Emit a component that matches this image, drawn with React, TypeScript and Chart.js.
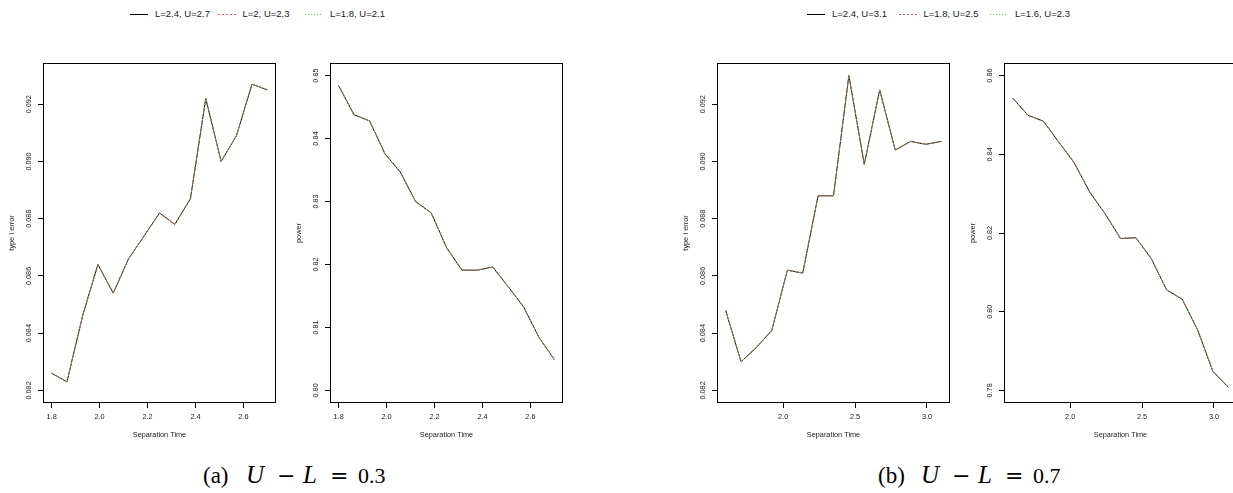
import React, { useEffect, useRef } from 'react';
import { Chart, registerables } from 'chart.js';

Chart.register(...registerables);

// ---------------- data ----------------
const sepTimeA = [1.8, 1.864, 1.929, 1.993, 2.057, 2.121, 2.186, 2.25, 2.314, 2.379, 2.443, 2.507, 2.571, 2.636, 2.7];
const sepTimeB = [1.6, 1.707, 1.814, 1.921, 2.029, 2.136, 2.243, 2.35, 2.457, 2.564, 2.671, 2.779, 2.886, 2.993, 3.1];

const legendA = ['L=2.4, U=2.7', 'L=2, U=2.3', 'L=1.8, U=2.1'];
const legendB = ['L=2.4, U=3.1', 'L=1.8, U=2.5', 'L=1.6, U=2.3'];

// (a) U - L = 0.3 : type I error
const typeIA1 = [0.0826, 0.0823, 0.0846, 0.0864, 0.0854, 0.0866, 0.0874, 0.0882, 0.0878, 0.0887, 0.0922, 0.0900, 0.0909, 0.0927, 0.0925];
const typeIA2 = [0.0826, 0.0823, 0.0846, 0.0864, 0.0854, 0.0866, 0.0874, 0.0882, 0.0878, 0.0887, 0.0922, 0.0900, 0.0909, 0.0927, 0.0925];
const typeIA3 = [0.0826, 0.0823, 0.0846, 0.0864, 0.0854, 0.0866, 0.0874, 0.0882, 0.0878, 0.0887, 0.0922, 0.0900, 0.0909, 0.0927, 0.0925];
// (a) power
const powerA1 = [0.8484, 0.8438, 0.8428, 0.8376, 0.8347, 0.8300, 0.8282, 0.8227, 0.8191, 0.8191, 0.8196, 0.8165, 0.8133, 0.8084, 0.8049];
const powerA2 = [0.8484, 0.8438, 0.8428, 0.8376, 0.8347, 0.8300, 0.8282, 0.8227, 0.8191, 0.8191, 0.8196, 0.8165, 0.8133, 0.8084, 0.8049];
const powerA3 = [0.8484, 0.8438, 0.8428, 0.8376, 0.8347, 0.8300, 0.8282, 0.8227, 0.8191, 0.8191, 0.8196, 0.8165, 0.8133, 0.8084, 0.8049];
// (b) U - L = 0.7 : type I error
const typeIB1 = [0.0848, 0.0830, 0.0835, 0.0841, 0.0862, 0.0861, 0.0888, 0.0888, 0.0930, 0.0899, 0.0925, 0.0904, 0.0907, 0.0906, 0.0907];
const typeIB2 = [0.0848, 0.0830, 0.0835, 0.0841, 0.0862, 0.0861, 0.0888, 0.0888, 0.0930, 0.0899, 0.0925, 0.0904, 0.0907, 0.0906, 0.0907];
const typeIB3 = [0.0848, 0.0830, 0.0835, 0.0841, 0.0862, 0.0861, 0.0888, 0.0888, 0.0930, 0.0899, 0.0925, 0.0904, 0.0907, 0.0906, 0.0907];
// (b) power
const powerB1 = [0.8543, 0.8499, 0.8484, 0.8431, 0.8378, 0.8304, 0.8249, 0.8186, 0.8188, 0.8135, 0.8055, 0.8032, 0.7954, 0.7848, 0.7808];
const powerB2 = [0.8543, 0.8499, 0.8484, 0.8431, 0.8378, 0.8304, 0.8249, 0.8186, 0.8188, 0.8135, 0.8055, 0.8032, 0.7954, 0.7848, 0.7808];
const powerB3 = [0.8543, 0.8499, 0.8484, 0.8431, 0.8378, 0.8304, 0.8249, 0.8186, 0.8188, 0.8135, 0.8055, 0.8032, 0.7954, 0.7848, 0.7808];

// axis limits (R adds 4% each side)
const xLimA = [1.8, 2.7];
const xLimB = [1.6, 3.1];
const yLimTypeI = [0.082, 0.093];
const yLimPowerA = [0.80, 0.85];
const yLimPowerB = [0.78, 0.86];

// ticks
const xTicksA = [1.8, 2.0, 2.2, 2.4, 2.6];
const xTickLabelsA = ['1.8', '2.0', '2.2', '2.4', '2.6'];
const xTicksB = [2.0, 2.5, 3.0];
const xTickLabelsB = ['2.0', '2.5', '3.0'];
const yTicksTypeI = [0.082, 0.084, 0.086, 0.088, 0.090, 0.092];
const yTickLabelsTypeI = ['0.082', '0.084', '0.086', '0.088', '0.090', '0.092'];
const yTicksPowerA = [0.80, 0.81, 0.82, 0.83, 0.84, 0.85];
const yTickLabelsPowerA = ['0.80', '0.81', '0.82', '0.83', '0.84', '0.85'];
const yTicksPowerB = [0.78, 0.80, 0.82, 0.84, 0.86];
const yTickLabelsPowerB = ['0.78', '0.80', '0.82', '0.84', '0.86'];

// ---------------- styling ----------------
const SANS = "'Liberation Sans', Arial, Helvetica, sans-serif";
const SERIF = "'Liberation Serif', 'Times New Roman', serif";
const MATHOP = "'DejaVu Serif', 'Liberation Serif', serif";
const AXIS_FONT = 7.3;
const TEXT_COLOR = '#1a1a1a';
const seriesStyles = [
  { color: '#000000', dash: [] as number[], order: 2 },
  { color: '#DF536B', dash: [2, 2], order: 1 },
  { color: '#61D04F', dash: [1, 2], order: 0 },
];

const BOX_W = 233;
const BOX_H = 340;
const AX_Y = 40; // y-axis area width
const AX_X = 40; // x-axis area height
const PAD_TOP = 8;
const PAD_RIGHT = 3;
const TICK_LEN = 5;

const pad4 = (lim: number[]) => {
  const d = (lim[1] - lim[0]) * 0.04;
  return [lim[0] - d, lim[1] + d];
};

const measureText = (text: string, font: string) => {
  const c = document.createElement('canvas').getContext('2d');
  if (!c) return 0;
  c.font = font;
  return c.measureText(text).width;
};

const boxPlugin = {
  id: 'rBox',
  afterDraw(chart: any) {
    const { ctx, chartArea } = chart;
    const l = Math.round(chartArea.left) + 0.5;
    const t = Math.round(chartArea.top) + 0.5;
    const r = Math.round(chartArea.right) - 0.5;
    const b = Math.round(chartArea.bottom) - 0.5;
    ctx.save();
    ctx.strokeStyle = '#000';
    ctx.lineWidth = 1;
    ctx.strokeRect(l, t, r - l, b - t);
    ctx.restore();
  },
};

type PanelProps = {
  boxLeft: number;
  boxTop: number;
  xs: number[];
  series: number[][];
  labels: string[];
  xLim: number[];
  yLim: number[];
  xTicks: number[];
  xTickLabels: string[];
  yTicks: number[];
  yTickLabels: string[];
  yTitle: string;
};

function Panel(p: PanelProps) {
  const ref = useRef<HTMLCanvasElement | null>(null);
  const cw = AX_Y + BOX_W + PAD_RIGHT;
  const ch = PAD_TOP + BOX_H + AX_X;

  useEffect(() => {
    if (!ref.current) return;
    const [xmin, xmax] = pad4(p.xLim);
    const [ymin, ymax] = pad4(p.yLim);
    const fontStr = `${AXIS_FONT}px ${SANS}`;
    const widest = Math.max(...p.yTickLabels.map((s) => measureText(s, fontStr)));
    const yPad = 14 - TICK_LEN - widest / 2;
    const lh = AXIS_FONT * 1.2;
    const lbl = (ticks: number[], labels: string[]) => (v: any) => {
      const i = ticks.findIndex((t) => Math.abs(t - Number(v)) < 1e-9);
      return i >= 0 ? labels[i] : '';
    };
    const chart = new Chart(ref.current, {
      type: 'line',
      data: {
        datasets: p.series.map((s, i) => ({
          label: p.labels[i],
          data: s.map((v, j) => ({ x: p.xs[j], y: v })),
          borderColor: seriesStyles[i].color,
          borderDash: seriesStyles[i].dash,
          order: seriesStyles[i].order,
          borderWidth: 1,
          pointRadius: 0,
          fill: false,
          tension: 0,
        })),
      },
      options: {
        animation: false,
        responsive: false,
        maintainAspectRatio: false,
        devicePixelRatio: 1,
        layout: { padding: { top: PAD_TOP, right: PAD_RIGHT, left: 0, bottom: 0 } },
        plugins: { legend: { display: false }, tooltip: { enabled: false } },
        scales: {
          x: {
            type: 'linear',
            min: xmin,
            max: xmax,
            afterBuildTicks: (s: any) => {
              s.ticks = p.xTicks.map((v) => ({ value: v }));
            },
            afterFit: (s: any) => {
              s.height = AX_X;
            },
            ticks: {
              autoSkip: false,
              maxRotation: 0,
              minRotation: 0,
              padding: 417 - 403 - TICK_LEN - lh / 2,
              font: { size: AXIS_FONT, family: SANS },
              color: TEXT_COLOR,
              callback: lbl(p.xTicks, p.xTickLabels),
            },
            grid: { display: true, drawOnChartArea: false, drawTicks: true, tickLength: TICK_LEN, color: '#000', lineWidth: 1 },
            border: { display: false },
            title: {
              display: true,
              text: 'Separation Time',
              font: { size: AXIS_FONT, family: SANS },
              color: TEXT_COLOR,
              padding: { top: 0, bottom: AX_X - lh / 2 - 31.5 },
            },
          },
          y: {
            type: 'linear',
            min: ymin,
            max: ymax,
            afterBuildTicks: (s: any) => {
              s.ticks = p.yTicks.map((v) => ({ value: v }));
            },
            afterFit: (s: any) => {
              s.width = AX_Y;
            },
            ticks: {
              autoSkip: false,
              minRotation: 90,
              maxRotation: 90,
              crossAlign: 'center',
              padding: yPad,
              font: { size: AXIS_FONT, family: SANS },
              color: TEXT_COLOR,
              callback: lbl(p.yTicks, p.yTickLabels),
            },
            grid: { display: true, drawOnChartArea: false, drawTicks: true, tickLength: TICK_LEN, color: '#000', lineWidth: 1 },
            border: { display: false },
            title: {
              display: true,
              text: p.yTitle,
              font: { size: AXIS_FONT, family: SANS },
              color: TEXT_COLOR,
              padding: { top: AX_Y - 31 - lh / 2, bottom: 0 },
            },
          },
        },
      },
      plugins: [boxPlugin],
    } as any);
    return () => chart.destroy();
  }, []);

  return (
    <div
      style={{
        position: 'absolute',
        left: p.boxLeft - AX_Y,
        top: p.boxTop - PAD_TOP,
        width: cw,
        height: ch,
      }}
    >
      <canvas ref={ref} width={cw} height={ch} style={{ width: cw, height: ch, display: 'block' }} />
    </div>
  );
}

function Legend({ left, spacing, labels }: { left: number; spacing: number; labels: string[] }) {
  return (
    <>
      {labels.map((t, i) => {
        const x = left + i * spacing;
        const st = seriesStyles[i];
        return (
          <React.Fragment key={i}>
            <svg width={18} height={3} style={{ position: 'absolute', left: x, top: 13 }}>
              <line
                x1={0}
                y1={1.5}
                x2={18}
                y2={1.5}
                stroke={st.color}
                strokeWidth={1}
                strokeDasharray={st.dash.length ? st.dash.join(' ') : undefined}
              />
            </svg>
            <div
              style={{
                position: 'absolute',
                left: x + 25,
                top: 9,
                height: 10,
                lineHeight: '10px',
                fontFamily: SANS,
                fontSize: 9.5,
                color: TEXT_COLOR,
                whiteSpace: 'nowrap',
              }}
            >
              {t}
            </div>
          </React.Fragment>
        );
      })}
    </>
  );
}

function Caption({ left, tag, value }: { left: number; tag: string; value: string }) {
  const slot = (w: number, extra: React.CSSProperties = {}): React.CSSProperties => ({
    display: 'inline-block',
    width: w,
    fontFamily: SERIF,
    fontSize: 23,
    ...extra,
  });
  return (
    <div
      style={{
        position: 'absolute',
        left,
        top: 462,
        lineHeight: '26px',
        height: 26,
        color: '#000',
        whiteSpace: 'nowrap',
      }}
    >
      <span style={slot(43)}>{tag}</span>
      <span style={slot(31, { fontStyle: 'italic', fontSize: 25 })}>U</span>
      <span style={slot(26, { fontFamily: MATHOP, fontSize: 22 })}>−</span>
      <span style={slot(27, { fontStyle: 'italic', fontSize: 25 })}>L</span>
      <span style={slot(28, { fontFamily: MATHOP, fontSize: 22 })}>=</span>
      <span style={slot(40, { fontSize: 22 })}>{value}</span>
    </div>
  );
}

export default function App() {
  return (
    <div
      style={{
        position: 'fixed',
        left: 0,
        top: 0,
        width: 1233,
        height: 493,
        overflow: 'hidden',
        background: '#fff',
      }}
    >
      <Legend left={130} spacing={87.5} labels={legendA} />
      <Legend left={807} spacing={91.5} labels={legendB} />

      <Panel
        boxLeft={43}
        boxTop={63}
        xs={sepTimeA}
        series={[typeIA1, typeIA2, typeIA3]}
        labels={legendA}
        xLim={xLimA}
        yLim={yLimTypeI}
        xTicks={xTicksA}
        xTickLabels={xTickLabelsA}
        yTicks={yTicksTypeI}
        yTickLabels={yTickLabelsTypeI}
        yTitle="type I error"
      />
      <Panel
        boxLeft={330}
        boxTop={63}
        xs={sepTimeA}
        series={[powerA1, powerA2, powerA3]}
        labels={legendA}
        xLim={xLimA}
        yLim={yLimPowerA}
        xTicks={xTicksA}
        xTickLabels={xTickLabelsA}
        yTicks={yTicksPowerA}
        yTickLabels={yTickLabelsPowerA}
        yTitle="power"
      />
      <Panel
        boxLeft={717}
        boxTop={63}
        xs={sepTimeB}
        series={[typeIB1, typeIB2, typeIB3]}
        labels={legendB}
        xLim={xLimB}
        yLim={yLimTypeI}
        xTicks={xTicksB}
        xTickLabels={xTickLabelsB}
        yTicks={yTicksTypeI}
        yTickLabels={yTickLabelsTypeI}
        yTitle="type I error"
      />
      <Panel
        boxLeft={1004}
        boxTop={63}
        xs={sepTimeB}
        series={[powerB1, powerB2, powerB3]}
        labels={legendB}
        xLim={xLimB}
        yLim={yLimPowerB}
        xTicks={xTicksB}
        xTickLabels={xTickLabelsB}
        yTicks={yTicksPowerB}
        yTickLabels={yTickLabelsPowerB}
        yTitle="power"
      />

      <Caption left={203} tag="(a)" value="0.3" />
      <Caption left={878} tag="(b)" value="0.7" />
    </div>
  );
}
